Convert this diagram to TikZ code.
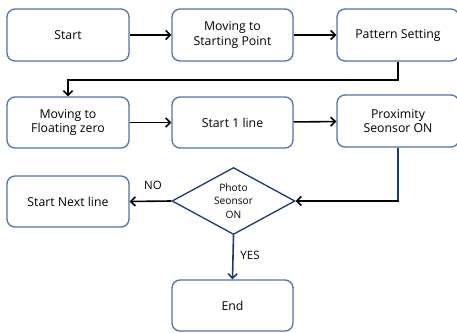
\documentclass[tikz,border=0pt]{standalone}
\usepackage{fontspec}
\setmainfont{Open Sans}
\usetikzlibrary{shapes.geometric,arrows.meta}
\definecolor{boxblue}{HTML}{5173A6}
\definecolor{navy}{HTML}{1B3A72}
\begin{document}
\begin{tikzpicture}[x=1pt,y=1pt,
  box/.style={draw=boxblue,line width=1.3pt,rounded corners=8pt,minimum width=122pt,minimum height=52pt,align=center,font=\fontsize{12.3}{14.8}\selectfont,inner sep=1pt},
  dec/.style={draw=navy,line width=1.3pt,shape=diamond,minimum width=123pt,minimum height=67pt,aspect=1.84,inner sep=0pt,align=center,font=\fontsize{10.2}{13.2}\selectfont},
  arr/.style={line width=1.6pt,-{Straight Barb[length=4.5pt,width=9pt,line width=1.6pt]}},
  lbl/.style={font=\fontsize{11.5}{13}\selectfont}]
\useasboundingbox (0,0) rectangle (457,332);
\node[box] (start) at (68,297) {Start};
\node[box,minimum width=121pt] (move) at (232.5,297) {Moving to\\Starting Point};
\node[box] (pat) at (398,297) {Pattern Setting};
\node[box,minimum height=51pt] (float) at (68,209.5) {Moving to\\Floating zero};
\node[box,minimum width=121pt,minimum height=51pt] (line1) at (232.5,209.5) {Start 1 line};
\node[box] (prox) at (398,211) {Proximity\\Seonsor ON};
\node[dec] (photo) at (233.5,131) {Photo\\Seonsor\\ON};
\node[box,minimum height=51pt] (next) at (68,130.5) {Start Next line};
\node[box,minimum width=121pt,minimum height=51pt] (end) at (232.5,26.5) {End};
\coordinate (c1) at (398,252);
\coordinate (c2) at (68,252);
\coordinate (c3) at (398,131);
\draw[arr] (start) -- (move);
\draw[arr] (move) -- (pat);
\draw[arr] (pat.south) -- (c1) -- (c2) -- (float.north);
\draw[arr] (float) -- (line1);
\draw[arr] (line1) -- (prox);
\draw[navy,line width=1.6pt] (prox.south) -- (c3);
\draw[arr] ([xshift=0.8pt]c3) -- (photo.east);
\draw[arr] (photo.west) -- (next.east);
\draw[arr,navy] (photo.south) -- (end.north);
\node[lbl] (no) at (153,147) {NO};
\node[lbl] (yes) at (250,77) {YES};
\end{tikzpicture}
\end{document}
